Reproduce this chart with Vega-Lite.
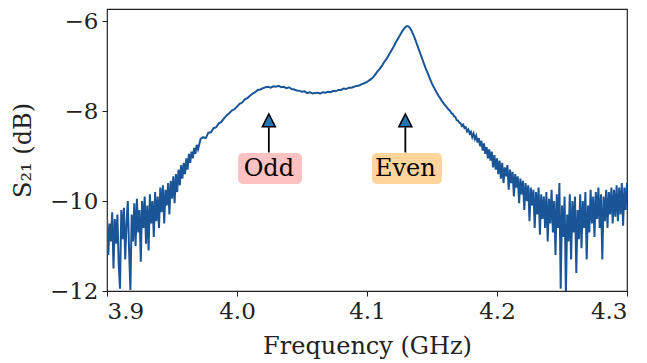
{
  "$schema": "https://vega.github.io/schema/vega-lite/v6.json",
  "width": 520,
  "height": 282,
  "autosize": {"type": "none"},
  "padding": {"left": 107, "top": 9, "right": 20, "bottom": 72},
  "background": "white",
  "config": {
    "view": {"stroke": "#222222", "strokeWidth": 1.2},
    "font": "DejaVu Serif",
    "axis": {
      "grid": false,
      "domain": false,
      "tickColor": "#222222",
      "tickSize": 5,
      "tickWidth": 1,
      "labelFont": "DejaVu Serif",
      "labelFontSize": 23,
      "labelColor": "#222222",
      "labelPadding": 4,
      "titleFont": "DejaVu Serif",
      "titleFontSize": 24,
      "titleFontWeight": "normal",
      "titleColor": "#222222"
    }
  },
  "datasets": {
    "s21": [
      {"f":3.900,"v":-10.35},{"f":3.901,"v":-11.2},{"f":3.902,"v":-10.5},{"f":3.903,"v":-10.9},{"f":3.904,"v":-10.25},{"f":3.905,"v":-11.5},{"f":3.906,"v":-10.4},{"f":3.907,"v":-10.95},{"f":3.908,"v":-10.3},{"f":3.909,"v":-11.4},
      {"f":3.910,"v":-11.95},{"f":3.911,"v":-10.2},{"f":3.912,"v":-10.85},{"f":3.913,"v":-10.15},{"f":3.914,"v":-11.3},{"f":3.915,"v":-10.5},{"f":3.916,"v":-10.0},{"f":3.917,"v":-11.1},{"f":3.918,"v":-11.98},{"f":3.919,"v":-10.3},
      {"f":3.920,"v":-10.9},{"f":3.921,"v":-10.05},{"f":3.922,"v":-11.0},{"f":3.923,"v":-9.95},{"f":3.924,"v":-10.7},{"f":3.925,"v":-10.2},{"f":3.926,"v":-11.35},{"f":3.927,"v":-10.0},{"f":3.928,"v":-10.6},{"f":3.929,"v":-9.9},
      {"f":3.930,"v":-10.95},{"f":3.931,"v":-10.1},{"f":3.932,"v":-11.1},{"f":3.933,"v":-9.85},{"f":3.934,"v":-10.5},{"f":3.935,"v":-10.0},{"f":3.936,"v":-10.8},{"f":3.937,"v":-9.8},{"f":3.938,"v":-10.45},{"f":3.939,"v":-9.9},
      {"f":3.940,"v":-10.6},{"f":3.941,"v":-9.7},{"f":3.942,"v":-10.25},{"f":3.943,"v":-9.65},{"f":3.944,"v":-10.5},{"f":3.945,"v":-9.75},{"f":3.946,"v":-10.1},{"f":3.947,"v":-9.6},{"f":3.948,"v":-10.3},{"f":3.949,"v":-9.55},
      {"f":3.950,"v":-9.95},{"f":3.951,"v":-9.45},{"f":3.952,"v":-10.05},{"f":3.953,"v":-9.4},{"f":3.954,"v":-9.8},{"f":3.955,"v":-9.3},{"f":3.956,"v":-9.65},{"f":3.957,"v":-9.2},{"f":3.958,"v":-9.5},{"f":3.959,"v":-9.15},
      {"f":3.960,"v":-9.4},{"f":3.961,"v":-9.05},{"f":3.962,"v":-9.3},{"f":3.963,"v":-8.95},{"f":3.964,"v":-9.15},{"f":3.965,"v":-8.9},{"f":3.966,"v":-9.05},{"f":3.967,"v":-8.82},{"f":3.968,"v":-8.95},{"f":3.969,"v":-8.75},
      {"f":3.970,"v":-8.85},{"f":3.972,"v":-8.62},{"f":3.974,"v":-8.58},{"f":3.976,"v":-8.6},{"f":3.978,"v":-8.48},{"f":3.980,"v":-8.47},{"f":3.982,"v":-8.38},{"f":3.984,"v":-8.36},{"f":3.986,"v":-8.27},{"f":3.988,"v":-8.24},
      {"f":3.990,"v":-8.16},{"f":3.992,"v":-8.1},{"f":3.994,"v":-8.05},{"f":3.996,"v":-7.99},{"f":3.998,"v":-7.96},{"f":4.000,"v":-7.9},{"f":4.002,"v":-7.84},{"f":4.004,"v":-7.81},{"f":4.006,"v":-7.74},{"f":4.008,"v":-7.71},
      {"f":4.010,"v":-7.66},{"f":4.012,"v":-7.61},{"f":4.014,"v":-7.58},{"f":4.016,"v":-7.53},{"f":4.018,"v":-7.52},{"f":4.020,"v":-7.49},{"f":4.022,"v":-7.47},{"f":4.024,"v":-7.46},{"f":4.026,"v":-7.48},{"f":4.028,"v":-7.45},
      {"f":4.030,"v":-7.46},{"f":4.032,"v":-7.44},{"f":4.034,"v":-7.47},{"f":4.036,"v":-7.46},{"f":4.038,"v":-7.49},{"f":4.040,"v":-7.47},{"f":4.042,"v":-7.51},{"f":4.044,"v":-7.52},{"f":4.046,"v":-7.54},{"f":4.048,"v":-7.55},
      {"f":4.050,"v":-7.57},{"f":4.052,"v":-7.56},{"f":4.054,"v":-7.6},{"f":4.056,"v":-7.58},{"f":4.058,"v":-7.61},{"f":4.060,"v":-7.6},{"f":4.062,"v":-7.59},{"f":4.064,"v":-7.61},{"f":4.066,"v":-7.58},{"f":4.068,"v":-7.59},
      {"f":4.070,"v":-7.57},{"f":4.072,"v":-7.58},{"f":4.074,"v":-7.55},{"f":4.076,"v":-7.56},{"f":4.078,"v":-7.53},{"f":4.080,"v":-7.53},{"f":4.082,"v":-7.5},{"f":4.084,"v":-7.51},{"f":4.086,"v":-7.48},{"f":4.088,"v":-7.48},
      {"f":4.090,"v":-7.46},{"f":4.092,"v":-7.44},{"f":4.094,"v":-7.43},{"f":4.096,"v":-7.4},{"f":4.098,"v":-7.38},
      {"f":4.100,"v":-7.35},{"f":4.101,"v":-7.33},{"f":4.102,"v":-7.31},{"f":4.103,"v":-7.29},{"f":4.104,"v":-7.27},{"f":4.105,"v":-7.24},{"f":4.106,"v":-7.2},{"f":4.107,"v":-7.16},{"f":4.108,"v":-7.12},{"f":4.109,"v":-7.09},
      {"f":4.110,"v":-7.05},{"f":4.111,"v":-7.01},{"f":4.112,"v":-6.97},{"f":4.113,"v":-6.92},{"f":4.114,"v":-6.88},{"f":4.115,"v":-6.84},{"f":4.116,"v":-6.79},{"f":4.117,"v":-6.74},{"f":4.118,"v":-6.69},{"f":4.119,"v":-6.64},
      {"f":4.120,"v":-6.59},{"f":4.121,"v":-6.54},{"f":4.122,"v":-6.48},{"f":4.123,"v":-6.43},{"f":4.124,"v":-6.38},{"f":4.125,"v":-6.33},{"f":4.126,"v":-6.28},{"f":4.127,"v":-6.23},{"f":4.128,"v":-6.19},{"f":4.129,"v":-6.15},
      {"f":4.130,"v":-6.12},{"f":4.131,"v":-6.11},{"f":4.132,"v":-6.12},{"f":4.133,"v":-6.15},{"f":4.134,"v":-6.2},{"f":4.135,"v":-6.26},{"f":4.136,"v":-6.33},{"f":4.137,"v":-6.4},{"f":4.138,"v":-6.48},{"f":4.139,"v":-6.56},
      {"f":4.140,"v":-6.64},{"f":4.141,"v":-6.72},{"f":4.142,"v":-6.8},{"f":4.143,"v":-6.88},{"f":4.144,"v":-6.96},{"f":4.145,"v":-7.04},{"f":4.146,"v":-7.11},{"f":4.147,"v":-7.18},{"f":4.148,"v":-7.25},{"f":4.149,"v":-7.32},
      {"f":4.150,"v":-7.39},{"f":4.151,"v":-7.45},{"f":4.152,"v":-7.5},{"f":4.153,"v":-7.56},{"f":4.154,"v":-7.61},{"f":4.155,"v":-7.66},{"f":4.156,"v":-7.7},{"f":4.157,"v":-7.75},{"f":4.158,"v":-7.79},{"f":4.159,"v":-7.83},
      {"f":4.160,"v":-7.87},{"f":4.161,"v":-7.9},{"f":4.162,"v":-7.94},{"f":4.163,"v":-7.97},{"f":4.164,"v":-8.0},{"f":4.165,"v":-8.05},{"f":4.166,"v":-8.06},{"f":4.167,"v":-8.12},{"f":4.168,"v":-8.13},{"f":4.169,"v":-8.2},
      {"f":4.170,"v":-8.21},{"f":4.171,"v":-8.26},{"f":4.172,"v":-8.27},{"f":4.173,"v":-8.33},{"f":4.174,"v":-8.3},{"f":4.175,"v":-8.38},{"f":4.176,"v":-8.36},{"f":4.177,"v":-8.45},{"f":4.178,"v":-8.41},{"f":4.179,"v":-8.5},
      {"f":4.180,"v":-8.46},{"f":4.181,"v":-8.58},{"f":4.182,"v":-8.5},{"f":4.183,"v":-8.62},{"f":4.184,"v":-8.55},{"f":4.185,"v":-8.7},{"f":4.186,"v":-8.6},{"f":4.187,"v":-8.78},{"f":4.188,"v":-8.66},{"f":4.189,"v":-8.88},
      {"f":4.190,"v":-8.72},{"f":4.191,"v":-8.95},{"f":4.192,"v":-8.8},{"f":4.193,"v":-9.05},{"f":4.194,"v":-8.85},{"f":4.195,"v":-9.1},{"f":4.196,"v":-8.9},{"f":4.197,"v":-9.25},{"f":4.198,"v":-8.98},{"f":4.199,"v":-9.3},
      {"f":4.200,"v":-9.05},{"f":4.201,"v":-9.4},{"f":4.202,"v":-9.1},{"f":4.203,"v":-9.5},{"f":4.204,"v":-9.15},{"f":4.205,"v":-9.6},{"f":4.206,"v":-9.25},{"f":4.207,"v":-9.45},{"f":4.208,"v":-9.2},{"f":4.209,"v":-9.75},
      {"f":4.210,"v":-9.3},{"f":4.211,"v":-9.6},{"f":4.212,"v":-9.35},{"f":4.213,"v":-9.9},{"f":4.214,"v":-9.4},{"f":4.215,"v":-9.7},{"f":4.216,"v":-9.45},{"f":4.217,"v":-10.05},{"f":4.218,"v":-9.5},{"f":4.219,"v":-9.85},
      {"f":4.220,"v":-9.55},{"f":4.221,"v":-10.2},{"f":4.222,"v":-9.6},{"f":4.223,"v":-10.0},{"f":4.224,"v":-9.65},{"f":4.225,"v":-10.45},{"f":4.226,"v":-9.7},{"f":4.227,"v":-10.1},{"f":4.228,"v":-9.75},{"f":4.229,"v":-10.6},
      {"f":4.230,"v":-9.8},{"f":4.231,"v":-10.3},{"f":4.232,"v":-9.7},{"f":4.233,"v":-10.75},{"f":4.234,"v":-9.85},{"f":4.235,"v":-10.4},{"f":4.236,"v":-9.9},{"f":4.237,"v":-10.6},{"f":4.238,"v":-9.8},{"f":4.239,"v":-10.9},
      {"f":4.240,"v":-9.95},{"f":4.241,"v":-10.5},{"f":4.242,"v":-9.75},{"f":4.243,"v":-10.7},{"f":4.244,"v":-10.0},{"f":4.245,"v":-11.2},{"f":4.246,"v":-9.85},{"f":4.247,"v":-10.6},{"f":4.248,"v":-9.6},{"f":4.249,"v":-11.95},
      {"f":4.250,"v":-10.1},{"f":4.251,"v":-10.8},{"f":4.252,"v":-9.9},{"f":4.253,"v":-12.1},{"f":4.254,"v":-10.3},{"f":4.255,"v":-10.9},{"f":4.256,"v":-9.85},{"f":4.257,"v":-11.3},{"f":4.258,"v":-10.0},{"f":4.259,"v":-10.7},
      {"f":4.260,"v":-9.9},{"f":4.261,"v":-11.6},{"f":4.262,"v":-10.2},{"f":4.263,"v":-10.85},{"f":4.264,"v":-9.85},{"f":4.265,"v":-11.05},{"f":4.266,"v":-10.0},{"f":4.267,"v":-10.6},{"f":4.268,"v":-9.8},{"f":4.269,"v":-11.3},
      {"f":4.270,"v":-10.1},{"f":4.271,"v":-10.7},{"f":4.272,"v":-9.75},{"f":4.273,"v":-10.5},{"f":4.274,"v":-9.9},{"f":4.275,"v":-10.8},{"f":4.276,"v":-9.8},{"f":4.277,"v":-10.4},{"f":4.278,"v":-9.7},{"f":4.279,"v":-10.6},
      {"f":4.280,"v":-9.85},{"f":4.281,"v":-11.3},{"f":4.282,"v":-9.9},{"f":4.283,"v":-10.45},{"f":4.284,"v":-9.75},{"f":4.285,"v":-10.6},{"f":4.286,"v":-9.8},{"f":4.287,"v":-10.3},{"f":4.288,"v":-9.7},{"f":4.289,"v":-10.5},
      {"f":4.290,"v":-9.75},{"f":4.291,"v":-10.35},{"f":4.292,"v":-9.65},{"f":4.293,"v":-10.45},{"f":4.294,"v":-9.7},{"f":4.295,"v":-10.3},{"f":4.296,"v":-9.6},{"f":4.297,"v":-10.55},{"f":4.298,"v":-9.7},{"f":4.299,"v":-10.2},
      {"f":4.300,"v":-9.6}
    ],
    "notes": [
      {"label":"Odd","f":4.0245,"x1":4.0008,"x2":4.0500,"fill":"Odd"},
      {"label":"Even","f":4.1295,"x1":4.1038,"x2":4.1577,"fill":"Even"}
    ]
  },
  "layer": [
    {
      "data": {"name": "s21"},
      "mark": {"type": "line", "color": "#1a5597", "strokeWidth": 2, "clip": true, "interpolate": "linear"},
      "encoding": {
        "x": {"field": "f", "type": "quantitative", "scale": {"domain": [3.9, 4.3], "nice": false, "zero": false},
              "axis": {"values": [3.9, 4.0, 4.1, 4.2, 4.3], "format": ".1f", "title": "Frequency (GHz)", "titlePadding": 11}},
        "y": {"field": "v", "type": "quantitative", "scale": {"domain": [-12, -5.73], "nice": false, "zero": false},
              "axis": {"values": [-12, -10, -8, -6], "format": "d", "title": "S₂₁ (dB)", "titlePadding": 14}}
      }
    },
    {
      "data": {"name": "notes"},
      "mark": {"type": "rule", "color": "black", "strokeWidth": 1.8},
      "encoding": {
        "x": {"field": "f", "type": "quantitative"},
        "y": {"datum": -8.92, "type": "quantitative"},
        "y2": {"datum": -8.36}
      }
    },
    {
      "data": {"name": "notes"},
      "mark": {"type": "point", "shape": "M0,-1L-1,1L1,1Z", "size": 169, "filled": true, "fill": "#1f77b4", "stroke": "black", "strokeWidth": 1.5, "opacity": 1},
      "encoding": {
        "x": {"field": "f", "type": "quantitative"},
        "y": {"datum": -8.205, "type": "quantitative"}
      }
    },
    {
      "data": {"name": "notes"},
      "mark": {"type": "rect", "cornerRadius": 5},
      "encoding": {
        "x": {"field": "x1", "type": "quantitative"},
        "x2": {"field": "x2"},
        "y": {"datum": -8.93, "type": "quantitative"},
        "y2": {"datum": -9.62},
        "color": {"field": "fill", "type": "nominal", "scale": {"domain": ["Odd", "Even"], "range": ["#ffc2c2", "#ffd59b"]}, "legend": null}
      }
    },
    {
      "data": {"name": "notes"},
      "mark": {"type": "text", "font": "DejaVu Serif", "fontSize": 24, "color": "black", "baseline": "middle", "align": "center", "dy": 1},
      "encoding": {
        "x": {"field": "f", "type": "quantitative"},
        "y": {"datum": -9.275, "type": "quantitative"},
        "text": {"field": "label"}
      }
    }
  ]
}
